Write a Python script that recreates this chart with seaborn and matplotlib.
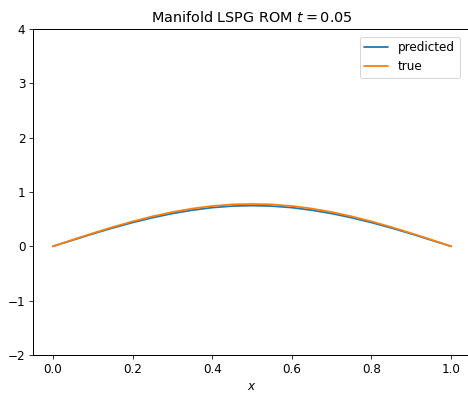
import matplotlib
matplotlib.use("Agg")
import matplotlib.pyplot as plt
import seaborn as sns
import pandas as pd

x_vals = [0.0, 0.05, 0.1, 0.15, 0.2, 0.25, 0.3, 0.35, 0.4, 0.45, 0.5,
          0.55, 0.6, 0.65, 0.7, 0.75, 0.8, 0.85, 0.9, 0.95, 1.0]
predicted = [0.0, 0.115, 0.230, 0.338, 0.438, 0.527, 0.604, 0.666, 0.713, 0.741, 0.750,
             0.741, 0.713, 0.666, 0.604, 0.527, 0.438, 0.338, 0.230, 0.115, 0.0]
true_vals = [0.0, 0.122, 0.241, 0.354, 0.458, 0.551, 0.631, 0.695, 0.742, 0.771, 0.780,
             0.771, 0.742, 0.695, 0.631, 0.551, 0.458, 0.354, 0.241, 0.122, 0.0]

df = pd.DataFrame({
    "x": x_vals * 2,
    "u": predicted + true_vals,
    "series": ["predicted"] * len(x_vals) + ["true"] * len(x_vals),
})

sns.set_style("ticks")
plt.rcParams.update({
    "text.color": "black", "axes.labelcolor": "black",
    "xtick.color": "black", "ytick.color": "black",
    "axes.edgecolor": "black", "font.size": 12,
    "xtick.labelsize": 12, "ytick.labelsize": 12,
    "axes.labelsize": 12,
    "legend.fontsize": 12, "xtick.major.size": 4.2, "ytick.major.size": 4.2,
    "axes.linewidth": 1.0,
})
fig = plt.figure(figsize=(6.5, 5.5), dpi=72)
ax = fig.add_axes([33 / 468, 1 - 355 / 396, 438 / 468, 326 / 396])
sns.lineplot(data=df, x="x", y="u", hue="series",
             palette=["#1f77b4", "#ff7f0e"], ax=ax, linewidth=1.8)
ax.set_ylim(-2, 4)
ax.set_xlim(-0.05, 1.05)
ax.set_xlabel("$x$")
ax.set_ylabel("")
ax.set_title("Manifold LSPG ROM $t = 0.05$", fontsize=14.4, pad=7)
ax.legend(title=None, loc="upper right", bbox_to_anchor=(0.995 - 3/438, 0.995))
for s in ax.spines.values():
    s.set_visible(True)
fig.savefig("out.png", dpi=72)
